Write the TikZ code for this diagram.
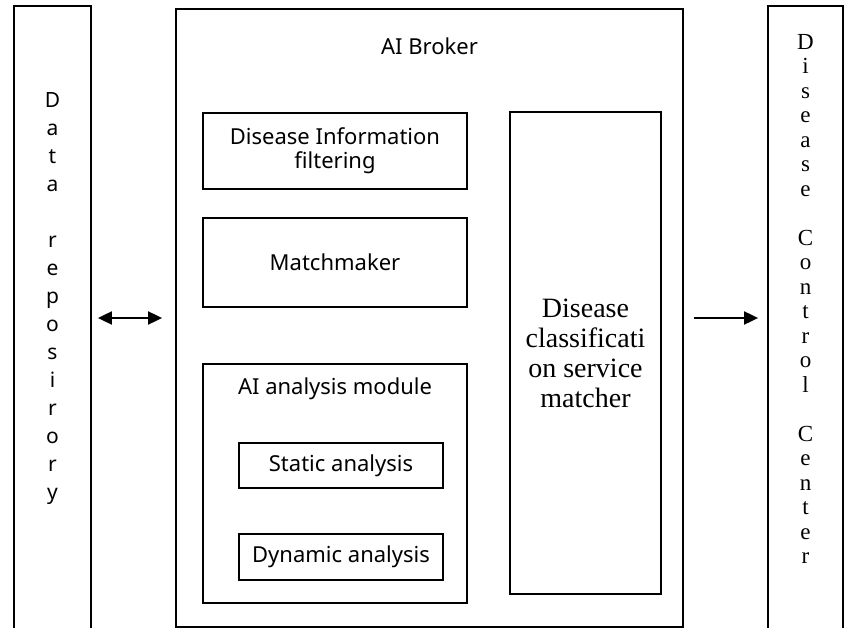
\documentclass[tikz,border=0pt]{standalone}
\usepackage{fontspec}
\setmainfont{Liberation Serif}
\newfontfamily\gothic{Noto Sans}
\usetikzlibrary{arrows.meta}
\begin{document}
\begin{tikzpicture}[x=1pt,y=-1pt,
  frame/.style={draw=black, line width=1.8pt, rectangle, inner sep=0pt},
  sanslbl/.style={font=\gothic\fontsize{22}{24}\selectfont, align=center, inner sep=0pt},
  seriflbl/.style={font=\fontsize{28}{30}\selectfont, align=center, inner sep=0pt},
  vsans/.style={font=\gothic\fontsize{21}{28}\selectfont, align=center, inner sep=0pt},
  vserif/.style={font=\fontsize{23}{24.5}\selectfont, align=center, inner sep=0pt},
  link/.style={line width=1.9pt, {Triangle[length=14pt,width=13pt]}-{Triangle[length=14pt,width=13pt]}},
  fwd/.style={line width=1.9pt, -{Triangle[length=14pt,width=13pt]}}]
\useasboundingbox (0,0) rectangle (845,628);
\clip (0,0) rectangle (845,628);

% outer blocks
\node[frame, minimum width=77pt, minimum height=644pt] (repo) at (52.5,328) {};
\node[frame, minimum width=507pt, minimum height=618pt] (broker) at (429.5,318) {};
\node[frame, minimum width=75pt, minimum height=644pt] (dcc) at (805.5,328) {};

% vertical labels
\node[vsans] (repolbl) at (52.5,299) {D\\a\\t\\a\\[28pt]r\\e\\p\\o\\s\\i\\r\\o\\r\\y};
\node[vserif] (dcclbl) at (805.5,299) {D\\i\\s\\e\\a\\s\\e\\[24.5pt]C\\o\\n\\t\\r\\o\\l\\[24.5pt]C\\e\\n\\t\\e\\r};

% broker contents
\node[sanslbl] (brokerlbl) at (429.5,46) {AI Broker};
\node[frame, sanslbl, minimum width=264pt, minimum height=76pt] (filter) at (335,151) {Disease Information\\filtering};
\node[frame, sanslbl, minimum width=264pt, minimum height=89pt] (match) at (335,262.5) {Matchmaker};
\node[frame, minimum width=264pt, minimum height=239pt] (module) at (335,483.5) {};
\node[sanslbl] (modulelbl) at (335,389) {AI analysis module};
\node[frame, sanslbl, minimum width=204pt, minimum height=45pt] (static) at (341,465.5) {Static analysis};
\node[frame, sanslbl, minimum width=204pt, minimum height=46pt] (dynamic) at (341,557) {Dynamic analysis};
\node[frame, seriflbl, minimum width=151pt, minimum height=482pt] (matcher) at (585.5,353) {Disease\\classificati\\on service\\matcher};

% connectors
\coordinate (row) at (0,318);
\draw[link] ([xshift=6pt]repo.east |- row) -- ([xshift=-13pt]broker.west |- row);
\draw[fwd] ([xshift=10pt]broker.east |- row) -- ([xshift=-9pt]dcc.west |- row);
\end{tikzpicture}
\end{document}
